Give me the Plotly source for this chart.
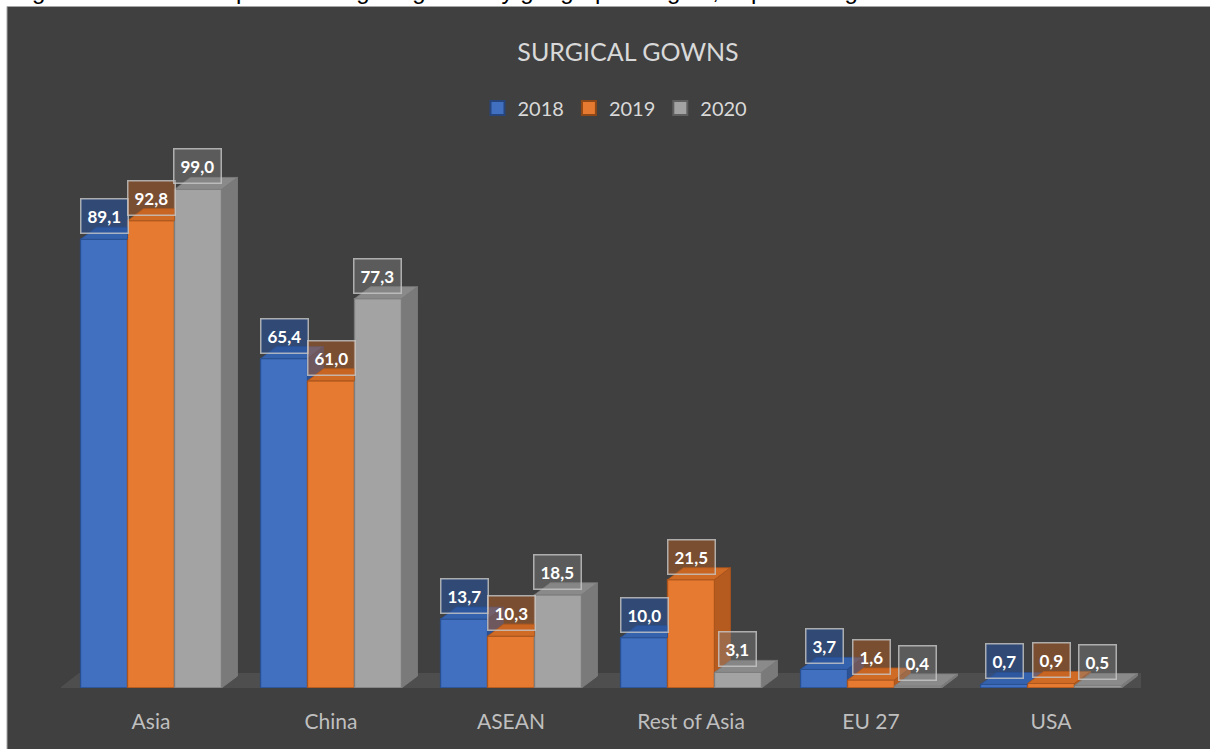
import plotly.graph_objects as go

# ---------------- data ----------------
categories = ["Asia", "China", "ASEAN", "Rest of Asia", "EU 27", "USA"]
series_names = ["2018", "2019", "2020"]
values_2018 = [89.1, 65.4, 13.7, 10.0, 3.7, 0.7]
values_2019 = [92.8, 61.0, 10.3, 21.5, 1.6, 0.9]
values_2020 = [99.0, 77.3, 18.5, 3.1, 0.4, 0.5]
chart_title = "SURGICAL GOWNS"
caption_text = "Figure 5: Share of imports of surgical gowns by geographic region, in percentage"

# ---------------- style ----------------
W, H = 1210, 749
L, R, T, B = 61, 69, 134, 61
PW, PH = W - L - R, H - T - B
Y_MAX = 110
BG = "#404040"
FONT = "Lato"

front_cols = ["#4170c0", "#e57a30", "#a3a3a3"]
line_cols = ["#2a4f8f", "#a9541c", "#7d7d7d"]
top_cols = ["#3562ad", "#d06b26", "#8a8a8a"]
side_cols = ["#2d5293", "#b55b1f", "#7a7a7a"]
legend_line = ["#26457c", "#8e4716", "#5f5f5f"]
label_bg = ["rgba(40,80,150,0.62)", "rgba(190,95,30,0.45)", "rgba(128,128,128,0.42)"]

GAP = 0.217
BW = (1 - GAP) / 3           # bar width in x units
DX = 16 / (PW / 6)           # depth offset in x units
DY = 12 / (PH / Y_MAX)       # depth offset in y units


def px_x(p):
    return (p - L) / PW


def px_y(p):
    return (H - B - p) / PH


all_series = [values_2018, values_2019, values_2020]
idx = list(range(len(categories)))

fig = go.Figure()

# front faces (real bars)
for k, (name, vals) in enumerate(zip(series_names, all_series)):
    fig.add_trace(go.Bar(
        x=idx, y=vals, name=name, legendgroup=name, showlegend=False,
        marker=dict(color=front_cols[k], line=dict(color=line_cols[k], width=1.3)),
        hoverinfo="name+y",
    ))

# 3D depth faces (top + side), derived from the same data
for i in idx:
    for k in range(3):
        v = all_series[k][i]
        left = i - 1.5 * BW + k * BW
        right = left + BW
        nxt = all_series[k + 1][i] if k < 2 else None
        # top face (clipped by the next bar in the cluster)
        n_eff = v if nxt is None else min(max(nxt, v), v + DY)
        tx = [left, left + DX, right + DX * (v + DY - n_eff) / DY, right, right, left]
        ty = [v, v + DY, v + DY, n_eff, v, v]
        fig.add_trace(go.Scatter(
            x=tx, y=ty, mode="lines", fill="toself",
            fillcolor=top_cols[k], line=dict(color=line_cols[k], width=0.8),
            showlegend=False, hoverinfo="skip"))
        # side face
        base = 0 if nxt is None else nxt
        if v > base:
            sx = [right, right + DX, right + DX, right, right]
            sy = [base, base + DY, v + DY, v, base]
            fig.add_trace(go.Scatter(
                x=sx, y=sy, mode="lines", fill="toself",
                fillcolor=side_cols[k], line=dict(color=line_cols[k], width=0.8),
                showlegend=False, hoverinfo="skip"))

# legend entries with larger square keys
for k, name in enumerate(series_names):
    fig.add_trace(go.Scatter(
        x=[None], y=[None], mode="markers", name=name, legendgroup=name,
        marker=dict(symbol="square", size=14, color=front_cols[k],
                    line=dict(color=legend_line[k], width=2)),
        hoverinfo="skip"))

annotations = []
# data labels
for k, vals in enumerate(all_series):
    for i, v in enumerate(vals):
        annotations.append(dict(
            x=i + (k - 1) * BW, y=v, xref="x", yref="y",
            text="<b>" + f"{v:.1f}".replace(".", ",") + "</b>",
            showarrow=False, yshift=23, yanchor="middle", xanchor="center",
            font=dict(family=FONT, size=17, color="white"),
            bgcolor=label_bg[k], bordercolor="rgba(200,200,200,0.8)",
            borderwidth=1.5, borderpad=6))

# cut-off caption on the white strip at the top
annotations.append(dict(
    x=px_x(10), y=px_y(6), xref="paper", yref="paper",
    xanchor="left", yanchor="bottom", showarrow=False,
    text=caption_text,
    font=dict(family="Liberation Sans", size=24, color="black")))

shapes = [
    # dark chart area with thin border (white strip left/top)
    dict(type="rect", xref="paper", yref="paper",
         x0=px_x(7), x1=px_x(W + 10), y0=px_y(H + 10), y1=px_y(6.5),
         fillcolor=BG, line=dict(color="#a6a6a6", width=1), layer="below"),
    # floor
    dict(type="path", xref="x", yref="y",
         path="M -0.522,-0.4 L 5.483,-0.4 L 5.606,2.98 L -0.4,2.98 Z",
         fillcolor="#4e4e4e", line=dict(width=0), layer="below"),
]

fig.update_layout(
    width=W, height=H,
    margin=dict(l=L, r=R, t=T, b=B, pad=0),
    paper_bgcolor="white", plot_bgcolor="rgba(0,0,0,0)",
    barmode="group", bargap=GAP, bargroupgap=0,
    title=dict(text=chart_title, x=628 / W, xref="container", xanchor="center",
               y=1 - 52 / H, yref="container", yanchor="middle",
               font=dict(family=FONT, size=25, color="#d9d9d9")),
    legend=dict(orientation="h", x=px_x(615), y=px_y(108), xref="paper", yref="paper",
                xanchor="center", yanchor="middle", bgcolor="rgba(0,0,0,0)",
                font=dict(family=FONT, size=20, color="#d9d9d9"),
                itemwidth=30, itemsizing="trace", traceorder="normal"),
    xaxis=dict(range=[-0.5, 5.5], tickvals=idx, ticktext=categories,
               showgrid=False, zeroline=False, showline=False, ticks="",
               ticklabelstandoff=19,
               tickfont=dict(family=FONT, size=21, color="#bfbfbf"), fixedrange=True),
    yaxis=dict(range=[0, Y_MAX], showgrid=False, zeroline=False, showline=False,
               showticklabels=False, ticks="", fixedrange=True),
    annotations=annotations, shapes=shapes,
    showlegend=True,
)

fig.write_html("out.html", config={"displayModeBar": False},
               post_script="document.body.style.margin='0px';document.body.style.overflow='hidden';")
